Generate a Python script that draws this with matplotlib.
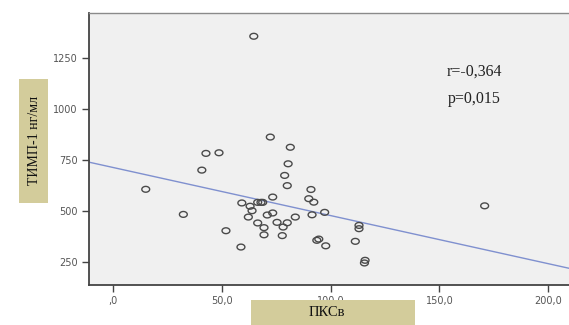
import matplotlib
matplotlib.use("Agg")
import matplotlib.pyplot as plt
from matplotlib.patches import Rectangle
from matplotlib.path import Path
import numpy as np

# Data
pks = [14.9, 32.2, 40.7, 42.6, 48.6, 51.8, 58.7, 59.1, 62.9, 63.8, 62.1, 64.6,
       66.4, 66.4, 67.9, 68.7, 69.3, 69.3, 70.8, 72.2, 73.3, 73.3, 75.3, 77.7,
       78.1, 78.8, 80.0, 80.0, 80.4, 81.4, 83.7, 89.9, 90.9, 91.4, 92.2, 93.6,
       94.5, 97.2, 97.7, 111.3, 113.0, 113.0, 115.5, 115.8, 170.8]
timp = [605, 482, 699, 781, 784, 402, 322, 538, 522, 500, 469, 1355,
        440, 541, 541, 541, 417, 382, 479, 861, 567, 489, 443, 378,
        420, 673, 623, 441, 730, 811, 469, 559, 604, 480, 542, 355,
        361, 492, 328, 350, 428, 412, 244, 257, 524]
fit_intercept = 711.6
fit_slope = -2.355
x_ticks = [0, 50, 100, 150, 200]
x_ticklabels = [",0", "50,0", "100,0", "150,0", "200,0"]
y_ticks = [250, 500, 750, 1000, 1250]
stats_text = ["r=-0,364", "p=0,015"]
y_label = "ТИМП-1 нг/мл"
x_label = "ПКСв"

W, H = 569, 325
fig = plt.figure(figsize=(W / 100, H / 100), dpi=100)
fig.patch.set_facecolor("white")

ax = fig.add_axes([89 / W, 1 - 285 / H, (579 - 89) / W, (285 - 13) / H])
ax.set_facecolor("#f0f0f0")
ax.set_xlim(-11.2, 214.2)
ax.set_ylim(136, 1469)

# elliptical open marker (slightly wider than tall)
t = np.linspace(0, 2 * np.pi, 40)
ell = Path(np.column_stack([1.35 * np.cos(t), np.sin(t)]), closed=True)
ax.scatter(pks, timp, marker=ell, s=32, facecolors="none",
           edgecolors="#4a4a4a", linewidths=1.0, zorder=3)

xl = np.array(ax.get_xlim())
ax.plot(xl, fit_intercept + fit_slope * xl, color="#7f90cf", lw=1.0, zorder=2)

ax.set_xticks(x_ticks)
ax.set_xticklabels(x_ticklabels)
ax.set_yticks(y_ticks)
ax.set_yticklabels([str(v) for v in y_ticks])
ax.tick_params(axis="both", direction="out", length=5, width=1.0,
               color="#444444", labelsize=7, labelcolor="#555555", pad=3)

for s in ["left", "bottom"]:
    ax.spines[s].set_color("#444444")
    ax.spines[s].set_linewidth(1.3)
ax.spines["top"].set_color("#8a8a8a")
ax.spines["top"].set_linewidth(1.0)
ax.spines["right"].set_visible(False)

ax.text(474 / W, 1 - 72 / H, stats_text[0], transform=fig.transFigure,
        ha="center", va="center", fontsize=11.5, family="Liberation Serif",
        color="#222222")
ax.text(474 / W, 1 - 99 / H, stats_text[1], transform=fig.transFigure,
        ha="center", va="center", fontsize=11.5, family="Liberation Serif",
        color="#222222")

box_color = "#d3cc9b"
fig.patches.append(Rectangle((19 / W, 1 - 203 / H), 29 / W, 124 / H,
                             transform=fig.transFigure, facecolor=box_color,
                             edgecolor="none", zorder=0))
fig.patches.append(Rectangle((251 / W, 1 - 325 / H), 164 / W, 25 / H,
                             transform=fig.transFigure, facecolor=box_color,
                             edgecolor="none", zorder=0))

fig.text(35 / W, 1 - 140 / H, y_label, rotation=90, ha="center",
         va="center", fontsize=10, family="Liberation Serif", color="#111111")
fig.text(327 / W, 1 - 312 / H, x_label, ha="center", va="center",
         fontsize=10.5, family="Liberation Serif", color="#111111")

fig.savefig("out.png", dpi=100, facecolor="white")
